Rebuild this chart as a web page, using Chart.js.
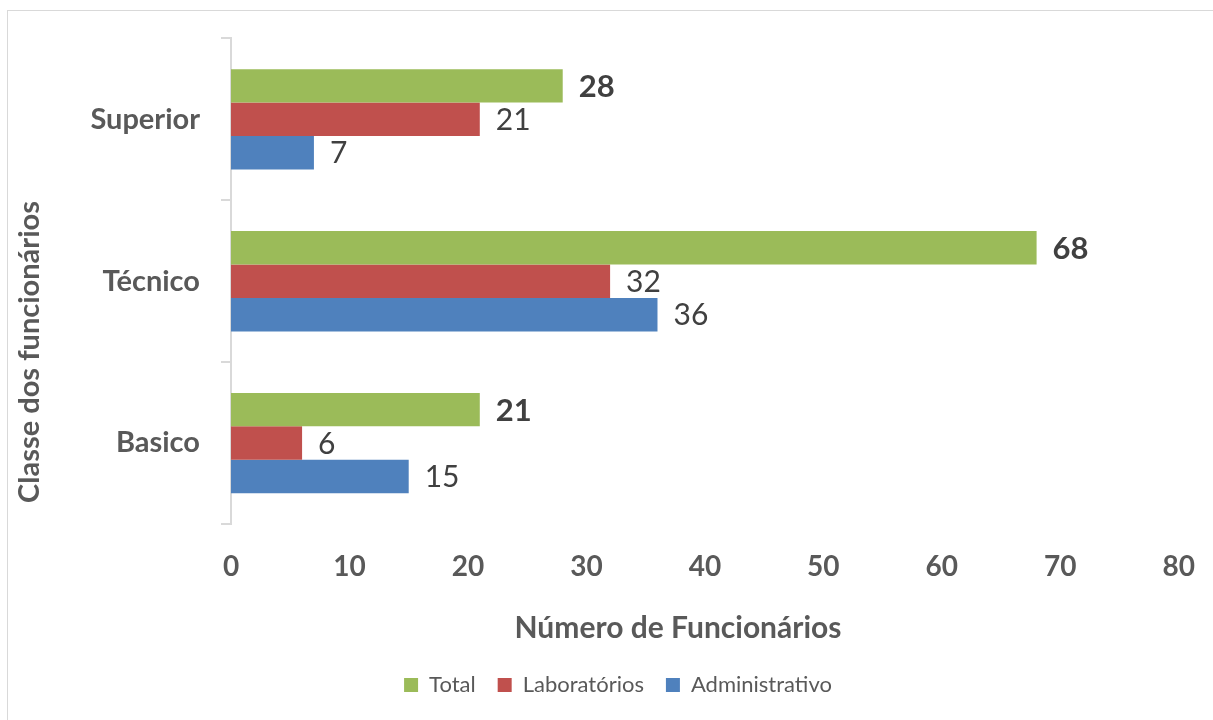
<!DOCTYPE html>
<html>
<head>
<meta charset="utf-8">
<script src="https://cdn.jsdelivr.net/npm/chart.js@4.4.0/dist/chart.umd.min.js"></script>
<style>
  html, body { margin: 0; padding: 0; background: #fff; }
  #wrap { position: relative; width: 1213px; height: 720px; overflow: hidden; }
  #frame { position: absolute; left: 7px; top: 10px; width: 1230px; height: 740px; border: 1px solid #d9d9d9; box-sizing: border-box; }
  canvas { position: absolute; left: 0; top: 0; }
</style>
</head>
<body>
<div id="wrap">
  <div id="frame"></div>
  <canvas id="chart" width="1213" height="720"></canvas>
</div>
<script>
// Categories and series
const categories = ['Superior', 'Técnico', 'Basico'];
const totalValues = [28, 68, 21];
const labValues = [21, 32, 6];
const adminValues = [7, 36, 15];
const xTicks = [0, 10, 20, 30, 40, 50, 60, 70, 80];

const FONT = "Lato, 'Open Sans', sans-serif";
const AXIS_GREY = '#595959';
const LINE_GREY = '#d9d9d9';

// Value labels at the end of each bar (Total in bold)
const barLabels = {
    id: 'barLabels',
    afterDatasetsDraw(chart) {
        const ctx = chart.ctx;
        ctx.save();
        ctx.fillStyle = '#404040';
        ctx.textAlign = 'left';
        ctx.textBaseline = 'middle';
        chart.data.datasets.forEach((ds, i) => {
            const meta = chart.getDatasetMeta(i);
            ctx.font = (i === 0 ? 'bold 31px ' : '30px ') + FONT;
            meta.data.forEach((bar, j) => {
                ctx.fillText(String(ds.data[j]), bar.x + 16, bar.y + 1);
            });
        });
        ctx.restore();
    }
};

// Axis titles are centred on the whole chart (as in the original), not on the plot
const axisTitles = {
    id: 'axisTitles',
    afterLayout(chart) {
        // nudge the legend a little to the right
        chart.legend.left += 21;
        chart.legend.right += 21;
    },
    afterDraw(chart) {
        const ctx = chart.ctx;
        ctx.save();
        ctx.font = 'bold 29px ' + FONT;
        ctx.fillStyle = AXIS_GREY;
        ctx.textAlign = 'center';
        ctx.textBaseline = 'middle';
        ctx.translate(30, 352);
        ctx.rotate(-Math.PI / 2);
        ctx.fillText('Classe dos funcionários', 0, 0);
        ctx.restore();

        ctx.save();
        ctx.font = 'bold 30px ' + FONT;
        ctx.fillStyle = AXIS_GREY;
        ctx.textAlign = 'center';
        ctx.textBaseline = 'middle';
        ctx.fillText('Número de Funcionários', 678, 628);
        ctx.restore();
    }
};

new Chart(document.getElementById('chart'), {
    type: 'bar',
    data: {
        labels: categories,
        datasets: [
            { label: 'Total', data: totalValues, backgroundColor: '#9BBB59' },
            { label: 'Laboratórios', data: labValues, backgroundColor: '#C0504D' },
            { label: 'Administrativo', data: adminValues, backgroundColor: '#4F81BD' }
        ]
    },
    options: {
        indexAxis: 'y',
        responsive: false,
        animation: false,
        categoryPercentage: 0.62,
        barPercentage: 1,
        layout: { padding: { top: 38, right: 31, left: 12, bottom: 14 } },
        plugins: {
            tooltip: { enabled: false },
            legend: {
                position: 'bottom',
                labels: {
                    font: { family: FONT, size: 22 },
                    color: AXIS_GREY,
                    boxWidth: 14,
                    boxHeight: 14,
                    padding: 22
                }
            }
        },
        scales: {
            x: {
                min: 0,
                max: 80,
                afterBuildTicks(scale) {
                    scale.ticks = xTicks.map(v => ({ value: v }));
                },
                afterFit(scale) { scale.height = 128; },
                grid: { display: false },
                border: { display: false },
                ticks: {
                    font: { family: FONT, size: 28, weight: 'bold' },
                    color: AXIS_GREY,
                    padding: 18
                }
            },
            y: {
                afterFit(scale) { scale.width = 219; },
                grid: {
                    drawOnChartArea: false,
                    drawTicks: true,
                    tickLength: 10,
                    color: LINE_GREY,
                    lineWidth: 2
                },
                border: { display: true, color: LINE_GREY, width: 2 },
                ticks: {
                    font: { family: FONT, size: 29, weight: 'bold' },
                    color: AXIS_GREY,
                    padding: 21
                }
            }
        }
    },
    plugins: [barLabels, axisTitles]
});
</script>
</body>
</html>
